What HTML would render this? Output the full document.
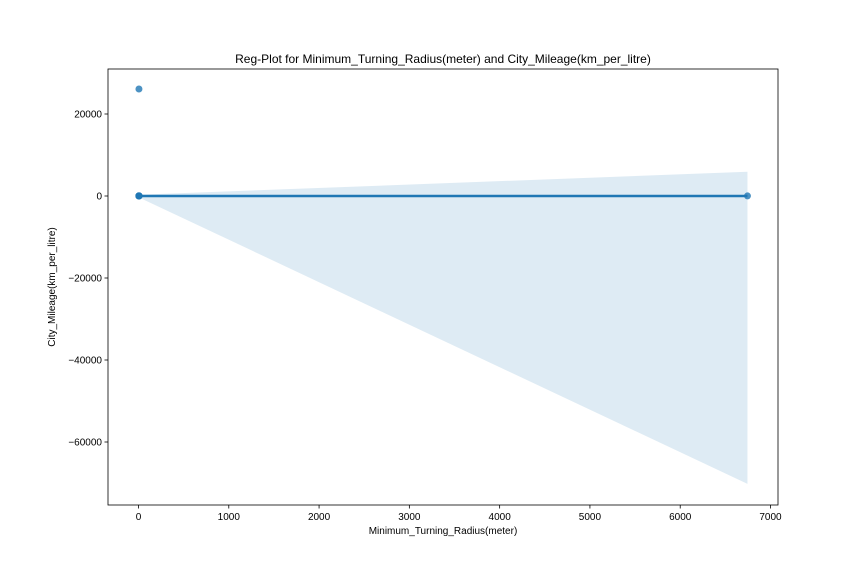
<!DOCTYPE html>
<html><head><meta charset="utf-8"><style>
body{margin:0;background:#fff;font-family:"Liberation Sans","DejaVu Sans",sans-serif;}
svg text{font-family:"Liberation Sans","DejaVu Sans",sans-serif;fill:#000;}
</style></head><body>
<svg id="chart" width="864" height="576">
<rect width="864" height="576" fill="#fff"/>
<g id="band"></g><g id="line"></g><g id="pts"></g><g id="axes"></g>
</svg>
<script>
const xTicks=[0,1000,2000,3000,4000,5000,6000,7000];
const yTicks=[20000,0,-20000,-40000,-60000];
const pointX=[5,5,5,5,5,5,6,6,4,5,6745];
const pointY=[26100,10,15,20,25,18,12,22,14,30,20];
const fitX=[0,6745];
const fitY=[15,15];
const bandX=[0,6745];
const bandUpper=[300,5900];
const bandLower=[-300,-70200];
const L=108,R=778,T=69,B=505;
const sx=v=>138.5+v*(770.5-138.5)/7000;
const sy=v=>196-v*82/20000;
const ns="http://www.w3.org/2000/svg";
function mk(tag,attrs,parent){const e=document.createElementNS(ns,tag);for(const k in attrs)e.setAttribute(k,attrs[k]);document.getElementById(parent).appendChild(e);return e;}
let d="M"+sx(bandX[0])+","+sy(bandUpper[0]);
for(let i=1;i<bandX.length;i++)d+=" L"+sx(bandX[i])+","+sy(bandUpper[i]);
for(let i=bandX.length-1;i>=0;i--)d+=" L"+sx(bandX[i])+","+sy(bandLower[i]);
const band=mk("path",{d:d+"Z",fill:"#1f77b4","fill-opacity":"0.15"},"band");


const ln=mk("line",{x1:sx(fitX[0]),y1:sy(fitY[0]),x2:sx(fitX[1]),y2:sy(fitY[1]),stroke:"#1f77b4","stroke-width":"2.5"},"line");


for(let i=0;i<pointX.length;i++){
 const c=mk("circle",{cx:sx(pointX[i]),cy:sy(pointY[i]),r:3.5,fill:"#1f77b4","fill-opacity":"0.8"},"pts");
 
 
}
const fr=mk("rect",{x:L,y:T,width:R-L,height:B-T,fill:"none",stroke:"#000","stroke-width":"0.8"},"axes");


xTicks.forEach(v=>{
 const x=sx(v);
 mk("line",{x1:x,y1:B,x2:x,y2:B+3.5,stroke:"#000","stroke-width":"0.8"},"axes");
 const t=mk("text",{x:x,y:B+15,"text-anchor":"middle","font-size":"10"},"axes");t.textContent=v;
 
 
});
yTicks.forEach(v=>{
 const y=sy(v);
 mk("line",{x1:L-3.5,y1:y,x2:L,y2:y,stroke:"#000","stroke-width":"0.8"},"axes");
 const t=mk("text",{x:L-6,y:y+3.5,"text-anchor":"end","font-size":"10"},"axes");t.textContent=v<0?"\u2212"+(-v):v;
 
 
});
const xt=mk("text",{x:443,y:534,"text-anchor":"middle","font-size":"10"},"axes");xt.textContent="Minimum_Turning_Radius(meter)";


const yt=mk("text",{x:0,y:0,"text-anchor":"middle","font-size":"10",transform:"translate(55,287) rotate(-90)"},"axes");yt.textContent="City_Mileage(km_per_litre)";


const tt=mk("text",{x:443,y:63,"text-anchor":"middle","font-size":"12"},"axes");tt.textContent="Reg-Plot for Minimum_Turning_Radius(meter) and City_Mileage(km_per_litre)";


</script>
</body></html>
